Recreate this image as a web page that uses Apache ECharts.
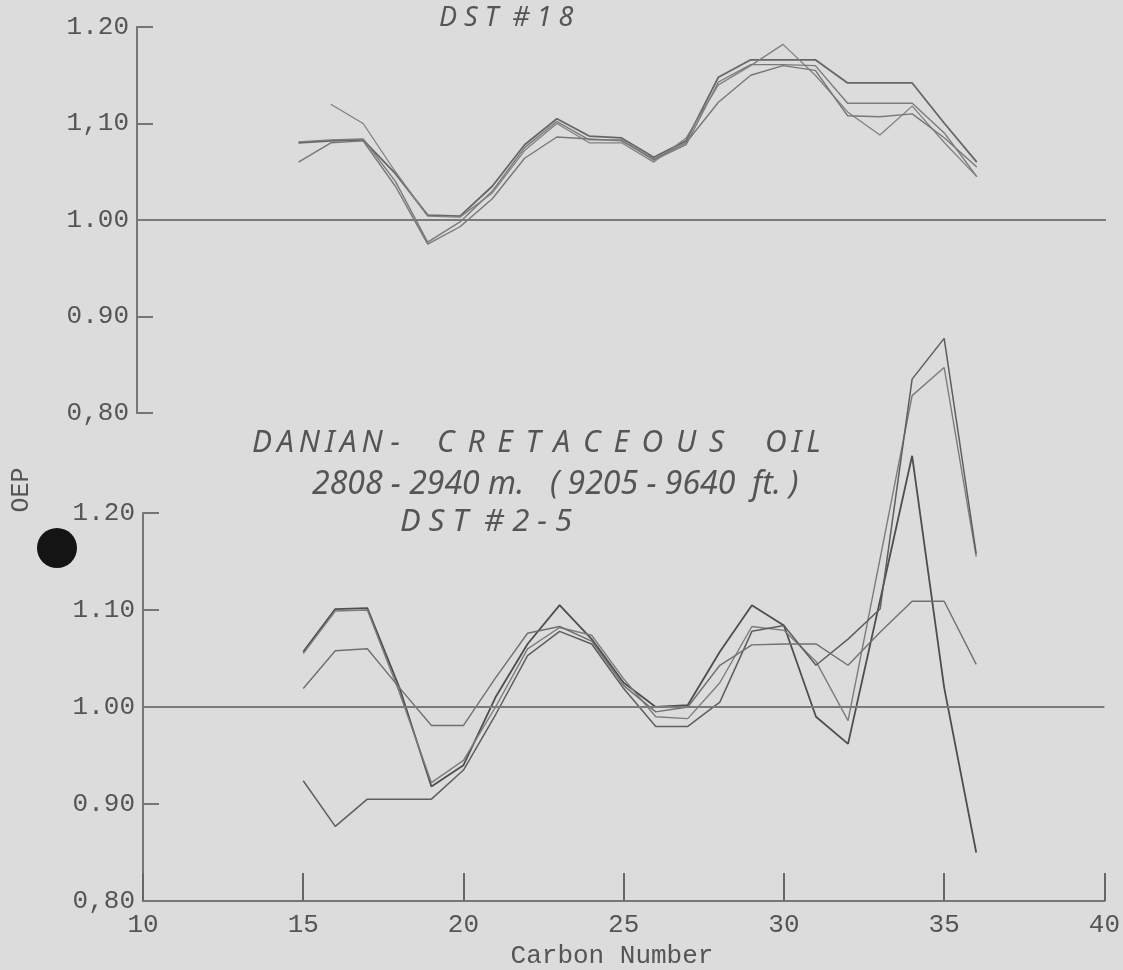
<!DOCTYPE html>
<html><head><meta charset="utf-8">
<script src="https://cdn.jsdelivr.net/npm/echarts@6/dist/echarts.min.js"></script>
<style>html,body{margin:0;padding:0;background:#dcdcdc}#c{width:1123px;height:970px}</style>
</head><body><div id="c"></div>
<script>
// Carbon numbers (x values)
const carbon = [15,16,17,18,19,20,21,22,23,24,25,26,27,28,29,30,31,32,33,34,35,36];
// Upper panel: DST #18
const topA = [1.080,1.082,1.083,1.048,1.005,1.004,1.035,1.078,1.105,1.087,1.085,1.065,1.082,1.148,1.166,1.166,1.166,1.142,1.142,1.142,1.100,1.060];
const topB = [1.081,1.083,1.084,1.040,0.977,0.998,1.030,1.075,1.102,1.083,1.083,1.062,1.078,1.143,1.161,1.161,1.160,1.121,1.121,1.121,1.090,1.045];
const topC = [null,1.120,1.100,1.050,1.004,1.003,1.028,1.072,1.100,1.080,1.080,1.060,1.085,1.140,1.160,1.182,1.150,1.112,1.088,1.118,1.080,1.045];
const topD = [1.060,1.080,1.082,1.035,0.975,0.993,1.022,1.064,1.086,1.084,1.082,1.063,1.080,1.122,1.150,1.160,1.155,1.108,1.107,1.110,1.085,1.055];
// Lower panel: Danian - Cretaceous oil, DST #2-5
const botP = [1.057,1.101,1.102,1.020,0.918,0.940,1.010,1.065,1.105,1.070,1.025,1.000,1.002,1.057,1.105,1.084,0.990,0.962,1.110,1.259,1.020,0.850];
const botQ = [1.055,1.099,1.100,1.015,0.922,0.945,1.000,1.060,1.082,1.074,1.029,0.990,0.988,1.025,1.083,1.079,1.047,0.986,1.153,1.321,1.350,1.155];
const botR = [0.924,0.877,0.905,0.905,0.905,0.935,0.992,1.053,1.078,1.065,1.019,0.980,0.980,1.005,1.078,1.084,1.043,1.070,1.101,1.338,1.380,1.158];
const botS = [1.019,1.058,1.060,1.020,0.981,0.981,1.030,1.076,1.083,1.068,1.022,0.995,1.000,1.043,1.064,1.065,1.065,1.043,1.077,1.109,1.109,1.044];
// Tick labels
const xTicks = [10,15,20,25,30,35,40];
const topYLabels = ['0,80','0.90','1.00','1,10','1.20'];
const botYLabels = ['0,80','0.90','1.00','1.10','1.20'];
const referenceOEP = 1.00;

const pairs = vals => carbon.map((c,i) => [c, vals[i]]);
const font = 'Liberation Mono';
const hand = 'Noto Sans';

function yAxisFor(grid, labels) {
  return {
    gridIndex: grid, type: 'value', min: 0.8, max: 1.2, interval: 0.1,
    axisLine: {show: true, lineStyle: {color: '#767676', width: 2}},
    axisTick: {show: true, inside: true, length: 16, lineStyle: {color: '#767676', width: 2}},
    axisLabel: {color: '#555', fontFamily: font, fontSize: 26, margin: 8,
      formatter: v => labels[Math.round((v - 0.8) * 10)]},
    splitLine: {show: false}
  };
}
function refLine() {
  return {silent: true, symbol: 'none', label: {show: false},
    lineStyle: {color: '#7a7a7a', width: 2, type: 'solid'},
    data: [[{coord: [10, referenceOEP]}, {coord: [40, referenceOEP]}]]};
}
function line(x, y, vals, color, width, extra) {
  return Object.assign({type: 'line', xAxisIndex: x, yAxisIndex: y, data: pairs(vals),
    symbol: 'none', clip: false, lineStyle: {color: color, width: width}, z: 3}, extra || {});
}
function note(x, y, text, size) {
  return {type: 'text', x: x, y: y, silent: true,
    style: {text: text, fontFamily: hand, fontStyle: 'italic', fontSize: size, fill: '#555',
      textAlign: 'left', textVerticalAlign: 'middle'}};
}
const th = '\u2009';
const sp = ' \u2009';

const chart = echarts.init(document.getElementById('c'));
chart.setOption({
  backgroundColor: '#dcdcdc',
  animation: false,
  grid: [
    {left: 137, top: 27, width: 969, height: 386},
    {left: 143, top: 513, width: 963, height: 388}
  ],
  xAxis: [
    {gridIndex: 0, type: 'value', min: 10, max: 40, show: false},
    {gridIndex: 1, type: 'value', min: 10, max: 40, interval: 5,
      axisLine: {lineStyle: {color: '#767676', width: 2}},
      axisTick: {inside: true, length: 28, lineStyle: {color: '#666', width: 2}},
      axisLabel: {color: '#555', fontFamily: font, fontSize: 26, margin: 11,
        formatter: v => xTicks.includes(v) ? String(v) : ''},
      splitLine: {show: false}}
  ],
  yAxis: [yAxisFor(0, topYLabels), yAxisFor(1, botYLabels)],
  series: [
    line(0, 0, topA, '#666', 1.8, {markLine: refLine()}),
    line(0, 0, topB, '#7a7a7a', 1.4),
    line(0, 0, topC, '#808080', 1.3),
    line(0, 0, topD, '#777', 1.4),
    line(1, 1, botP, '#4e4e4e', 1.8, {markLine: refLine()}),
    line(1, 1, botQ, '#7c7c7c', 1.4),
    line(1, 1, botR, '#5e5e5e', 1.5),
    line(1, 1, botS, '#707070', 1.4)
  ],
  graphic: [
    {type: 'circle', shape: {cx: 57, cy: 548, r: 20}, style: {fill: '#141414'}},
    {type: 'text', x: 21, y: 490, rotation: Math.PI / 2,
      style: {text: 'OEP', fontFamily: font, fontSize: 25, fill: '#555', textAlign: 'center', textVerticalAlign: 'middle'}},
    {type: 'text', x: 612, y: 956,
      style: {text: 'Carbon Number', fontFamily: font, fontSize: 26, fill: '#555', textAlign: 'center', textVerticalAlign: 'middle'}},
    note(439, 18, 'D S T  # 1 8', 27),
    note(252, 443, ['D','A','N','I','A','N'].join(th) + ' -', 30),
    note(437, 443, ['C','R','E','T','A','C','E','O','U','S'].join(sp), 30),
    note(765, 443, ['O','I','L'].join(th), 30),
    note(312, 485, '2808 - 2940 m.', 32),
    note(550, 485, '( 9205 - 9640  ft. )', 32),
    note(400, 522, 'D S T  # 2 - 5', 31)
  ]
});
</script>
</body></html>
